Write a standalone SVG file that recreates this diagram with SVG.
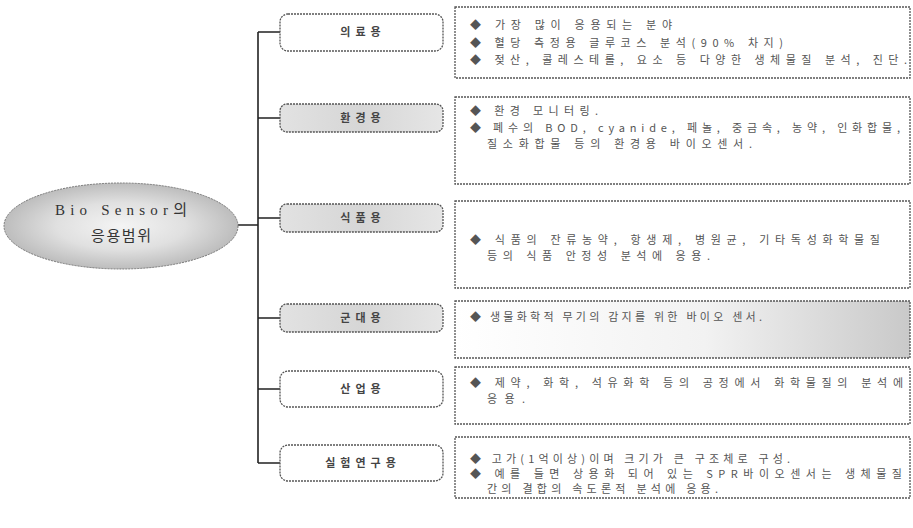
<svg xmlns="http://www.w3.org/2000/svg" width="913" height="528" viewBox="0 0 913 528">
<defs>
<radialGradient id="eg" cx="0.5" cy="0.5" r="0.5">
<stop offset="0" stop-color="#f4f4f4"/>
<stop offset="0.55" stop-color="#e0e0e0"/>
<stop offset="1" stop-color="#bdbdbd"/>
</radialGradient>
<linearGradient id="g4" x1="0" y1="0" x2="1" y2="0">
<stop offset="0" stop-color="#ffffff"/>
<stop offset="0.55" stop-color="#f2f2f2"/>
<stop offset="1" stop-color="#c9c9c9"/>
</linearGradient>
<linearGradient id="gl" x1="0" y1="0" x2="1" y2="0">
<stop offset="0" stop-color="#e2e2e2"/>
<stop offset="0.5" stop-color="#d6d6d6"/>
<stop offset="1" stop-color="#e6e6e6"/>
</linearGradient>
</defs>
<style>
.lb{fill:#fff;stroke:#555;stroke-width:1.3;stroke-dasharray:2 1}
.lbg{fill:url(#gl);stroke:#555;stroke-width:1.3;stroke-dasharray:2 1}
.bx{fill:#fff;stroke:#555;stroke-width:1.3;stroke-dasharray:2 1}
.ln{stroke:#222;stroke-width:1.6;fill:none}
.lt{font-family:"Noto Sans CJK KR","Noto Sans",sans-serif;font-size:11px;font-weight:bold;fill:#444;text-anchor:middle;letter-spacing:5px}
.t{font-family:"Noto Sans CJK KR","Noto Sans",sans-serif;font-size:11px;fill:#555}
.et{font-family:"Liberation Serif","Noto Sans CJK KR",serif;font-size:15px;fill:#333;text-anchor:middle}
</style>
<g id="connectors">
<path class="ln" d="M238 225 H258 M258 32 V463 M258 32 H280 M258 118 H280 M258 218 H280 M258 318 H280 M258 389 H280 M258 463 H280"/>
</g>
<g id="root">
<ellipse cx="121" cy="226" rx="117" ry="43" fill="url(#eg)" stroke="#777" stroke-width="1" stroke-dasharray="2 1"/>
<text class="et" x="121" y="215" textLength="132" lengthAdjust="spacing">Bio Sensor의</text>
<text class="et" x="121" y="241" textLength="60" lengthAdjust="spacing">응용범위</text>
</g>
<g id="n1">
<rect class="lb" x="280" y="14" width="163" height="37" rx="8"/>
<text class="lt" x="363" y="36">의료용</text>
</g>
<g id="n2">
<rect class="lbg" x="280" y="104" width="163" height="28" rx="7"/>
<text class="lt" x="363" y="122">환경용</text>
</g>
<g id="n3">
<rect class="lbg" x="280" y="204" width="163" height="28" rx="7"/>
<text class="lt" x="363" y="222">식품용</text>
</g>
<g id="n4">
<rect class="lbg" x="280" y="304" width="163" height="28" rx="7"/>
<text class="lt" x="363" y="322">군대용</text>
</g>
<g id="n5">
<rect class="lb" x="280" y="371" width="163" height="36" rx="8"/>
<text class="lt" x="363" y="393">산업용</text>
</g>
<g id="n6">
<rect class="lb" x="280" y="445" width="163" height="36" rx="8"/>
<text class="lt" x="363" y="467">실험연구용</text>
</g>
<g id="d1">
<rect class="bx" x="455" y="7" width="455" height="71"/>
<text class="t" x="470" y="29" textLength="202" lengthAdjust="spacing">◆ 가장 많이 응용되는 분야</text>
<text class="t" x="470" y="47" textLength="313" lengthAdjust="spacing">◆ 혈당 측정용 글루코스 분석(90% 차지)</text>
<text class="t" x="470" y="64" textLength="437" lengthAdjust="spacing">◆ 젖산, 콜레스테롤, 요소 등 다양한 생체물질 분석, 진단.</text>
</g>
<g id="d2">
<rect class="bx" x="455" y="97" width="455" height="87"/>
<text class="t" x="470" y="115" textLength="128" lengthAdjust="spacing">◆ 환경 모니터링.</text>
<text class="t" x="470" y="132" textLength="430" lengthAdjust="spacing">◆ 폐수의 BOD, cyanide, 페놀, 중금속, 농약, 인화합물,</text>
<text class="t" x="487" y="148" textLength="265" lengthAdjust="spacing">질소화합물 등의 환경용 바이오센서.</text>
</g>
<g id="d3">
<rect class="bx" x="455" y="201" width="455" height="87"/>
<text class="t" x="470" y="244" textLength="410" lengthAdjust="spacing">◆ 식품의 잔류농약, 항생제, 병원균, 기타독성화학물질</text>
<text class="t" x="487" y="260" textLength="223" lengthAdjust="spacing">등의 식품 안정성 분석에 응용.</text>
</g>
<g id="d4">
<rect x="455" y="301" width="455" height="57" fill="url(#g4)" stroke="#555" stroke-width="1.3" stroke-dasharray="2 1"/>
<text class="t" x="470" y="321" textLength="292" lengthAdjust="spacing">◆ 생물화학적 무기의 감지를 위한 바이오 센서.</text>
</g>
<g id="d5">
<rect class="bx" x="455" y="367" width="455" height="57"/>
<text class="t" x="470" y="387" textLength="433" lengthAdjust="spacing">◆ 제약, 화학, 석유화학 등의 공정에서 화학물질의 분석에</text>
<text class="t" x="487" y="403" textLength="38" lengthAdjust="spacing">응용.</text>
</g>
<g id="d6">
<rect class="bx" x="455" y="437" width="455" height="61"/>
<text class="t" x="470" y="463" textLength="320" lengthAdjust="spacing">◆ 고가(1억이상)이며 크기가 큰 구조체로 구성.</text>
<text class="t" x="470" y="478" textLength="432" lengthAdjust="spacing">◆ 예를 들면 상용화 되어 있는 SPR바이오센서는 생체물질</text>
<text class="t" x="487" y="493" textLength="231" lengthAdjust="spacing">간의 결합의 속도론적 분석에 응용.</text>
</g>
</svg>
